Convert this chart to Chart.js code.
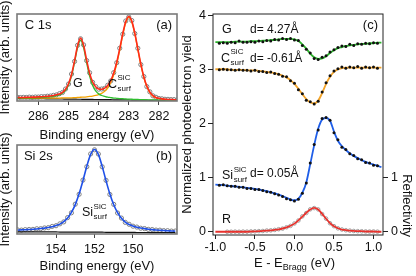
<!DOCTYPE html>
<html>
<head>
<meta charset="utf-8">
<script src="https://cdn.jsdelivr.net/npm/chart.js@4.4.1/dist/chart.umd.min.js"></script>
<style>
  html, body { margin: 0; padding: 0; background: #fff; }
  #wrap { position: relative; width: 416px; height: 276px; }
  #wrap canvas { position: absolute; left: 0; top: 0; }
</style>
</head>
<body>
<div id="wrap">
  <canvas id="c1sChart" width="416" height="276"></canvas>
  <canvas id="si2sChart" width="416" height="276"></canvas>
  <canvas id="xswChart" width="416" height="276"></canvas>
</div>
<script>
/**
 * XPS core levels (a, b) and XSW yield curves (c)
 */

// (a) C 1s
const c1sEnergy = [
  286.7, 286.6, 286.5, 286.4, 286.3, 286.2, 286.1, 286.0, 285.9, 285.8,
  285.7, 285.6, 285.5, 285.4, 285.3, 285.2, 285.1, 285.0, 284.9, 284.8,
  284.7, 284.6, 284.5, 284.4, 284.3, 284.2, 284.1, 284.0, 283.9, 283.8,
  283.7, 283.6, 283.5, 283.4, 283.3, 283.2, 283.1, 283.0, 282.9, 282.8,
  282.7, 282.6, 282.5, 282.4, 282.3, 282.2, 282.1, 282.0, 281.9, 281.8,
  281.7, 281.6, 281.5, 281.4
];
const c1sMeasured = [
  .043, .040, .042, .041, .045, .043, .046, .046, .050, .050,
  .055, .057, .065, .070, .084, .098, .138, .195, .310, .455,
  .640, .715, .645, .465, .325, .214, .166, .136, .138, .145,
  .181, .230, .326, .440, .607, .768, .920, .965, .925, .775,
  .606, .418, .281, .165, .105, .060, .043, .029, .025, .020,
  .019, .016, .016, .012
];
const c1sTotalFit = [
  .041, .041, .041, .042, .043, .044, .044, .047, .048, .051,
  .053, .058, .063, .071, .081, .100, .135, .198, .304, .462,
  .635, .723, .640, .471, .319, .218, .163, .139, .135, .148,
  .178, .234, .321, .445, .602, .773, .914, .972, .918, .780,
  .600, .423, .276, .169, .102, .062, .041, .031, .024, .021,
  .018, .017, .015, .013
];
const c1sGraphene = [
  .036, .036, .036, .037, .037, .038, .038, .040, .041, .043,
  .045, .049, .053, .061, .070, .088, .121, .183, .288, .444,
  .615, .700, .614, .442, .285, .179, .116, .082, .063, .053,
  .044, .039, .034, .031, .028, .026, .023, .022, .020, .019,
  .017, .016, .015, .014, .013, .012, .011, .011, .009, .009,
  .008, .008, .007, .006
];
const c1sSurface = [
  .035, .035, .034, .034, .034, .034, .033, .034, .033, .034,
  .033, .034, .034, .034, .034, .035, .036, .037, .037, .039,
  .040, .043, .045, .048, .052, .057, .064, .074, .088, .111,
  .149, .210, .301, .428, .587, .760, .903, .962, .909, .772,
  .593, .417, .270, .164, .097, .058, .037, .027, .021, .018,
  .015, .014, .012, .011
];
const c1sBackground = [
  .030, .030, .029, .029, .028, .028, .027, .027, .026, .026,
  .025, .025, .024, .024, .023, .023, .022, .022, .021, .021,
  .020, .020, .019, .019, .018, .018, .017, .017, .016, .016,
  .015, .015, .014, .014, .013, .013, .012, .012, .011, .011,
  .010, .010, .009, .009, .008, .008, .007, .007, .006, .006,
  .005, .005, .004, .004
];
const c1sTicks = [286, 285, 284, 283, 282];

// (b) Si 2s
const si2sEnergy = [
  156.0, 155.8, 155.6, 155.4, 155.2, 155.0, 154.8, 154.6, 154.4, 154.2,
  154.0, 153.8, 153.6, 153.4, 153.2, 153.0, 152.8, 152.6, 152.4, 152.2,
  152.0, 151.8, 151.6, 151.4, 151.2, 151.0, 150.8, 150.6, 150.4, 150.2,
  150.0, 149.8, 149.6, 149.4, 149.2, 149.0, 148.8, 148.6, 148.4, 148.2,
  148.0, 147.8
];
const si2sMeasured = [
  .046, .044, .049, .051, .052, .059, .060, .068, .072, .085,
  .093, .114, .136, .184, .238, .335, .446, .606, .756, .900,
  .946, .899, .755, .603, .444, .333, .236, .179, .131, .109,
  .088, .078, .065, .061, .052, .050, .044, .043, .038, .037,
  .033, .033
];
const si2sFit = [
  .044, .046, .048, .050, .053, .057, .061, .066, .073, .082,
  .095, .111, .138, .180, .242, .330, .451, .600, .761, .895,
  .950, .895, .760, .598, .449, .328, .239, .176, .134, .107,
  .090, .076, .067, .060, .054, .049, .045, .042, .039, .036,
  .034, .032
];
const si2sBackground = [
  .025, .025, .025, .024, .024, .024, .024, .023, .023, .023,
  .023, .022, .022, .022, .022, .021, .021, .021, .021, .020,
  .020, .020, .020, .019, .019, .019, .019, .018, .018, .018,
  .018, .017, .017, .017, .017, .016, .016, .016, .016, .015,
  .015, .015
];
const si2sTicks = [154, 152, 150];

// (c) photoelectron yield vs E - E_Bragg
const braggEnergy = [
  -1.00, -0.95, -0.90, -0.85, -0.80, -0.75, -0.70, -0.65, -0.60, -0.55,
  -0.50, -0.45, -0.40, -0.35, -0.30, -0.25, -0.20, -0.15, -0.10, -0.05,
   0.00,  0.05,  0.10,  0.15,  0.20,  0.25,  0.30,  0.35,  0.40,  0.45,
   0.50,  0.55,  0.60,  0.65,  0.70,  0.75,  0.80,  0.85,  0.90,  0.95,
   1.00,  1.05,  1.10
];
const grapheneFit = [
  3.50, 3.50, 3.50, 3.50, 3.50, 3.51, 3.51, 3.51, 3.51, 3.52,
  3.52, 3.52, 3.53, 3.53, 3.54, 3.54, 3.55, 3.56, 3.56, 3.56,
  3.55, 3.52, 3.46, 3.38, 3.29, 3.22, 3.19, 3.20, 3.24, 3.30,
  3.35, 3.39, 3.41, 3.43, 3.44, 3.45, 3.46, 3.47, 3.47, 3.48,
  3.48, 3.49, 3.49
];
const grapheneYield = [
  null, 3.48, 3.49, 3.48, 3.50, 3.49, 3.52, 3.50, 3.50, 3.51,
  3.50, 3.52, 3.51, 3.53, 3.52, 3.55, 3.54, 3.57, 3.55, 3.57,
  3.54, 3.53, 3.44, 3.37, 3.30, 3.20, 3.18, 3.22, 3.25, 3.32,
  3.36, 3.40, 3.43, 3.42, 3.46, 3.44, 3.47, 3.46, 3.48, 3.47,
  3.49, 3.48, null
];
const cSurfFit = [
  3.00, 3.00, 3.00, 3.00, 2.99, 2.99, 2.99, 2.99, 2.98, 2.98,
  2.98, 2.97, 2.96, 2.95, 2.94, 2.93, 2.91, 2.88, 2.85, 2.80,
  2.73, 2.64, 2.54, 2.45, 2.39, 2.37, 2.42, 2.56, 2.73, 2.86,
  2.95, 3.00, 3.02, 3.03, 3.03, 3.03, 3.03, 3.03, 3.03, 3.03,
  3.03, 3.03, 3.03
];
const cSurfYield = [
  null, 2.99, 3.00, 2.99, 2.99, 2.98, 2.99, 2.98, 2.98, 2.97,
  2.98, 2.96, 2.96, 2.94, 2.95, 2.92, 2.91, 2.87, 2.86, 2.79,
  2.74, 2.62, 2.55, 2.43, 2.40, 2.36, 2.41, 2.58, 2.75, 2.88,
  2.97, 3.01, 3.04, 3.02, 3.04, 3.03, 3.05, 3.02, 3.04, 3.03,
  3.04, 3.02, null
];
const siSurfFit = [
  0.870, 0.865, 0.860, 0.850, 0.845, 0.835, 0.830, 0.820, 0.810, 0.800,
  0.790, 0.780, 0.765, 0.750, 0.730, 0.710, 0.685, 0.660, 0.625, 0.595,
  0.580, 0.610, 0.720, 0.910, 1.250, 1.600, 1.900, 2.070, 2.100, 2.050,
  1.850, 1.680, 1.580, 1.510, 1.450, 1.400, 1.360, 1.320, 1.290, 1.260,
  1.240, 1.220, 1.190
];
const siSurfYield = [
  null, 0.86, 0.87, 0.85, 0.84, 0.84, 0.82, 0.82, 0.80, 0.80,
  0.78, 0.78, 0.76, 0.74, 0.73, 0.70, 0.68, 0.65, 0.61, 0.59,
  0.57, 0.60, 0.71, 0.90, 1.27, 1.61, 1.88, 2.09, 2.11, 2.06,
  1.83, 1.70, 1.56, 1.52, 1.44, 1.41, 1.35, 1.33, 1.28, 1.27,
  1.23, 1.22, null
];
const reflectivityFit = [
  0.000, 0.000, 0.000, 0.000, 0.000, 0.000, 0.000, 0.000, 0.000, 0.005,
  0.008, 0.010, 0.015, 0.020, 0.025, 0.035, 0.045, 0.060, 0.080, 0.110,
  0.150, 0.210, 0.280, 0.350, 0.410, 0.440, 0.410, 0.330, 0.240, 0.160,
  0.100, 0.065, 0.040, 0.030, 0.020, 0.015, 0.010, 0.010, 0.005, 0.005,
  0.005, 0.000, 0.000
];
const reflectivityMeasured = [
  null, null, null, 0.000, 0.000, 0.002, 0.000, 0.003, 0.002, 0.006,
  0.008, 0.012, 0.014, 0.022, 0.026, 0.034, 0.047, 0.058, 0.083, 0.108,
  0.153, 0.207, 0.284, 0.346, 0.414, 0.437, 0.413, 0.326, 0.243, 0.157,
  0.103, 0.063, 0.042, 0.028, 0.021, 0.014, 0.011, 0.009, 0.006, 0.004,
  0.006, 0.002, null
];
const braggTicks = [-1.0, -0.5, 0.0, 0.5, 1.0];
const yieldTicks = [0, 1, 2, 3, 4];
const reflectivityTicks = [0, 1];

const FONT = '"Liberation Sans", Arial, Helvetica, sans-serif';
Chart.defaults.font.family = FONT;
Chart.defaults.color = '#111';
Chart.defaults.animation = false;

function toPoints(xs, ys) {
  return xs.map((x, i) => ({ x, y: ys[i] })).filter(p => p.y !== null);
}

function setTicks(values) {
  return scale => { scale.ticks = values.map(v => ({ value: v })); };
}

function drawRich(ctx, x, y, text, sup, sub, size, align) {
  ctx.save();
  ctx.fillStyle = '#111';
  ctx.textBaseline = 'middle';
  ctx.textAlign = 'left';
  ctx.font = `${size}px ${FONT}`;
  const w = ctx.measureText(text).width;
  const x0 = align === 'right' ? x - w : x;
  ctx.fillText(text, x0, y);
  ctx.font = `8px ${FONT}`;
  if (sup) ctx.fillText(sup, x0 + w + 0.5, y - size * 0.5);
  if (sub) ctx.fillText(sub, x0 + w + 0.5, y + size * 0.32);
  ctx.restore();
}

// frame around the plot area + text labels placed in data coordinates
function panelPlugin(frameColor, frameWidth, notes, extra) {
  return {
    id: 'panel',
    afterDatasetsDraw(chart) {
      const { ctx, chartArea: a } = chart;
      ctx.save();
      ctx.strokeStyle = frameColor;
      ctx.lineWidth = frameWidth;
      ctx.strokeRect(a.left, a.top, a.right - a.left, a.bottom - a.top);
      ctx.restore();
    },
    afterDraw(chart) {
      const { ctx, scales } = chart;
      notes.forEach(n => {
        const px = scales.x.getPixelForValue(n.x);
        const py = scales.y.getPixelForValue(n.y);
        drawRich(ctx, px, py, n.text, n.sup, n.sub, n.size || 12.5, n.align);
      });
      if (extra) extra(chart);
    }
  };
}

function bindingAxis(min, max, ticks, height) {
  return {
    type: 'linear', reverse: true, min, max,
    afterBuildTicks: setTicks(ticks),
    afterFit: s => { s.height = height; },
    ticks: { font: { size: 12.5 }, padding: 4, color: '#111', callback: v => v },
    grid: { drawOnChartArea: false, drawTicks: true, tickLength: 4, color: '#444' },
    border: { display: false },
    title: { display: true, text: 'Binding energy (eV)', font: { size: 13 }, color: '#111', padding: { top: 0, bottom: 0 } }
  };
}

function intensityAxis() {
  return {
    min: 0, max: 1,
    afterFit: s => { s.width = 17; },
    ticks: { display: false },
    grid: { display: false },
    border: { display: false },
    title: { display: true, text: 'Intensity (arb. units)', font: { size: 13 }, color: '#111', padding: { top: -2, bottom: 0 } }
  };
}

function lineSet(xs, ys, color, width) {
  return {
    data: toPoints(xs, ys), showLine: true, borderColor: color, borderWidth: width,
    pointRadius: 0, cubicInterpolationMode: 'monotone'
  };
}

function circleSet(xs, ys, color, radius) {
  return {
    data: toPoints(xs, ys), showLine: false, pointRadius: radius,
    pointBorderColor: color, pointBackgroundColor: 'rgba(255,255,255,0)', pointBorderWidth: 1
  };
}

function dotSet(xs, ys) {
  return {
    data: toPoints(xs, ys), showLine: false, pointRadius: 1.5,
    pointBorderWidth: 0, pointBackgroundColor: '#111'
  };
}

function renderC1sChart() {
  const notes = [
    { text: 'C 1s', x: 286.45, y: 0.874, size: 13 },
    { text: '(a)', x: 281.565, y: 0.874, size: 13, align: 'right' },
    { text: 'G', x: 284.85, y: 0.195 },
    { text: 'C', sup: 'SiC', sub: 'surf', x: 283.69, y: 0.19 }
  ];
  new Chart(document.getElementById('c1sChart'), {
    type: 'scatter',
    data: {
      datasets: [
        lineSet(c1sEnergy, c1sTotalFit, '#ff2a1a', 1.6),
        lineSet(c1sEnergy, c1sGraphene, '#2fbf2f', 1.3),
        lineSet(c1sEnergy, c1sSurface, '#f4a300', 1.3),
        lineSet(c1sEnergy, c1sBackground, '#111', 1.2),
        circleSet(c1sEnergy, c1sMeasured, '#808080', 2.1)
      ]
    },
    options: {
      responsive: false,
      layout: { padding: { left: 0, top: 14, right: 239, bottom: 132.7 } },
      plugins: { legend: { display: false }, tooltip: { enabled: false } },
      scales: { x: bindingAxis(281.40, 286.71, c1sTicks, 42.3), y: intensityAxis() }
    },
    plugins: [panelPlugin('#7a7a7a', 1.6, notes)]
  });
}

function renderSi2sChart() {
  const notes = [
    { text: 'Si 2s', x: 155.67, y: 0.876, size: 13 },
    { text: '(b)', x: 147.97, y: 0.876, size: 13, align: 'right' },
    { text: 'Si', sup: 'SiC', sub: 'surf', x: 152.65, y: 0.236 }
  ];
  new Chart(document.getElementById('si2sChart'), {
    type: 'scatter',
    data: {
      datasets: [
        lineSet(si2sEnergy, si2sFit, '#1f50e8', 1.6),
        lineSet(si2sEnergy, si2sBackground, '#111', 1.2),
        circleSet(si2sEnergy, si2sMeasured, '#808080', 2.1)
      ]
    },
    options: {
      responsive: false,
      layout: { padding: { left: 0, top: 145, right: 239, bottom: 2.2 } },
      plugins: { legend: { display: false }, tooltip: { enabled: false } },
      scales: { x: bindingAxis(147.71, 156.03, si2sTicks, 39.8), y: intensityAxis() }
    },
    plugins: [panelPlugin('#7a7a7a', 1.6, notes)]
  });
}

// x title with subscript, and the right-hand title sitting beside its 0..1 range
function drawXswTitles(chart) {
  const { ctx, chartArea } = chart;
  const cx = chart.scales.x.getPixelForValue(0);
  const cy = chartArea.bottom + 28;
  ctx.save();
  ctx.fillStyle = '#111';
  ctx.textBaseline = 'middle';
  ctx.textAlign = 'left';
  const big = `13px ${FONT}`;
  const small = `9px ${FONT}`;
  ctx.font = big;
  const w1 = ctx.measureText('E - E').width;
  const w3 = ctx.measureText(' (eV)').width;
  ctx.font = small;
  const w2 = ctx.measureText('Bragg').width;
  let x = cx - (w1 + w2 + w3) / 2;
  ctx.font = big;
  ctx.fillText('E - E', x, cy);
  x += w1;
  ctx.font = small;
  ctx.fillText('Bragg', x, cy + 5);
  x += w2;
  ctx.font = big;
  ctx.fillText(' (eV)', x, cy);

  ctx.translate(407, chartArea.bottom + 2);
  ctx.rotate(Math.PI / 2);
  ctx.textAlign = 'right';
  ctx.font = big;
  ctx.fillText('Reflectivity', 0, 0);
  ctx.restore();
}

function renderXswChart() {
  const notes = [
    { text: '(c)', x: 1.057, y: 3.80, size: 13, align: 'right' },
    { text: 'G', x: -0.916, y: 3.725 },
    { text: 'd= 4.27Å', x: -0.562, y: 3.725, size: 12 },
    { text: 'C', sup: 'SiC', sub: 'surf', x: -0.929, y: 3.198 },
    { text: 'd= -0.61Å', x: -0.562, y: 3.189, size: 12 },
    { text: 'Si', sup: 'SiC', sub: 'surf', x: -0.916, y: 1.03 },
    { text: 'd= 0.05Å', x: -0.562, y: 1.066, size: 12 },
    { text: 'R', x: -0.916, y: 0.217 }
  ];
  const sideAxis = (position, ticks, width) => ({
    type: 'linear', position, min: -0.06, max: 4.02,
    afterBuildTicks: setTicks(ticks),
    afterFit: s => { s.width = width; },
    ticks: { font: { size: 12.5 }, padding: 2, color: '#111', callback: v => v },
    grid: { drawOnChartArea: false, drawTicks: true, tickLength: 5, color: '#222' },
    border: { display: false }
  });
  const yLeft = sideAxis('left', yieldTicks, 33);
  yLeft.title = { display: true, text: 'Normalized photoelectron yield', font: { size: 13 }, color: '#111', padding: { top: 0, bottom: 0 } };
  const yRight = sideAxis('right', reflectivityTicks, 33);
  yRight.ticks.padding = 3;

  new Chart(document.getElementById('xswChart'), {
    type: 'scatter',
    data: {
      datasets: [
        dotSet(braggEnergy, grapheneYield),
        dotSet(braggEnergy, cSurfYield),
        dotSet(braggEnergy, siSurfYield),
        lineSet(braggEnergy, grapheneFit, '#2cb52c', 1.8),
        lineSet(braggEnergy, cSurfFit, '#f3a42a', 1.8),
        lineSet(braggEnergy, siSurfFit, '#1f5ee8', 1.8),
        Object.assign(lineSet(braggEnergy, reflectivityFit, '#e8322d', 1.8), { yAxisID: 'yR' }),
        Object.assign(circleSet(braggEnergy, reflectivityMeasured, '#a0a0a0', 1.8), { yAxisID: 'yR' })
      ]
    },
    options: {
      responsive: false,
      layout: { padding: { left: 180, top: 14, right: 0, bottom: 0 } },
      plugins: { legend: { display: false }, tooltip: { enabled: false } },
      scales: {
        x: {
          type: 'linear', min: -1.03, max: 1.12,
          afterBuildTicks: setTicks(braggTicks),
          afterFit: s => { s.height = 41; },
          ticks: { font: { size: 12.5 }, padding: 1, color: '#111', callback: v => Number(v).toFixed(1) },
          grid: { drawOnChartArea: false, drawTicks: true, tickLength: 4, color: '#222' },
          border: { display: false }
        },
        y: yLeft,
        yR: yRight
      }
    },
    plugins: [panelPlugin('#222', 1, notes, drawXswTitles)]
  });
}

document.addEventListener('DOMContentLoaded', () => {
  renderC1sChart();
  renderSi2sChart();
  renderXswChart();
});
</script>
</body>
</html>
